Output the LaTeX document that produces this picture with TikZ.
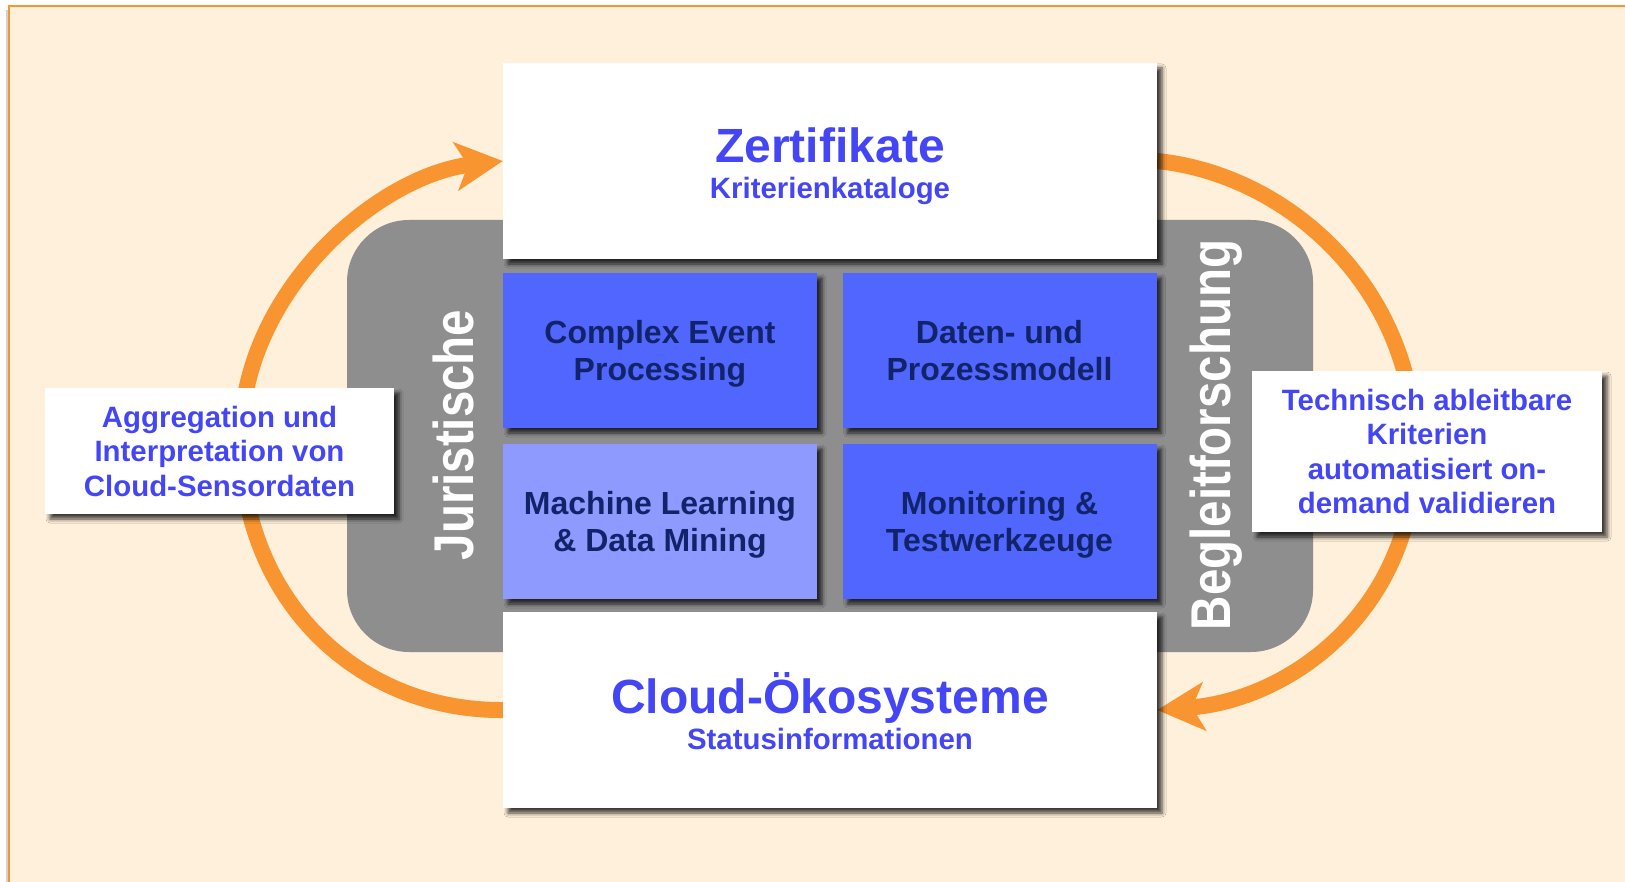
\documentclass[tikz,border=0pt]{standalone}
\usepackage{fontspec}
\setmainfont{Liberation Sans}
\usetikzlibrary{arrows.meta, shadows.blur, backgrounds, positioning}
\definecolor{cream}{RGB}{254,240,218}
\definecolor{frameorange}{RGB}{249,149,48}
\definecolor{panelgray}{RGB}{142,142,142}
\definecolor{tileblue}{RGB}{80,102,255}
\definecolor{tilelight}{RGB}{143,154,255}
\definecolor{textblue}{RGB}{68,70,245}
\definecolor{textnavy}{RGB}{18,36,105}
\tikzset{
    dropshade/.style={blur shadow={shadow xshift=5pt, shadow yshift=-5pt, shadow blur radius=4pt, shadow opacity=75}},
    mainbox/.style={dropshade, fill=white, minimum width=654pt, minimum height=196pt, inner sep=0pt},
    tile/.style={dropshade, fill=tileblue, minimum width=314pt, minimum height=155pt, inner sep=0pt,
        align=center, text depth=0pt, text=textnavy, font=\fontsize{32}{37}\selectfont\bfseries},
    notebox/.style={dropshade, fill=white, inner sep=0pt, align=center, text=textblue,
        font=\fontsize{29.4}{34.5}\selectfont\bfseries},
    bigtitle/.style={anchor=base, text=textblue, font=\fontsize{48}{48}\selectfont\bfseries},
    subtitle/.style={anchor=base, text=textblue, font=\fontsize{29.4}{29.4}\selectfont\bfseries},
    sideword/.style={rotate=90, text=white, font=\fontsize{47.5}{47.5}\selectfont\bfseries},
    loopline/.style={line width=16pt, draw=frameorange, -{Stealth[length=47pt, width=48pt, inset=12pt]}}
}
\begin{document}
\begin{tikzpicture}[x=1pt, y=-1pt]
    \useasboundingbox (0,0) rectangle (1625,882);
    % header and footer
    \node[mainbox] (cert) at (830,161) {};
    \node[bigtitle] (certname) at (830,163) {Zertifikate};
    \node[subtitle] (certsub) at (830,199) {Kriterienkataloge};
    \node[mainbox] (eco) at (830,710) {};
    \node[bigtitle] (econame) at (830,713) {Cloud-Ökosysteme};
    \node[subtitle] (ecosub) at (830,749) {Statusinformationen};
    % the four work packages
    \node[tile] (cep) at (660,350.5) {Complex Event\\Processing};
    \node[tile] (model) at (999.5,350.5) {Daten- und\\Prozessmodell};
    \node[tile, fill=tilelight] (ml) at (660,521.5) {Machine Learning\\\& Data Mining};
    \node[tile] (mon) at (999.5,521.5) {Monitoring \&\\Testwerkzeuge};
    % side labels
    \node[sideword] (legal) at (453,435) {\scalebox{1}[1.18]{Juristische}};
    \node[sideword] (research) at (1216,435) {\scalebox{1}[1.18]{Begleitforschung}};
    \node[notebox, minimum width=349pt, minimum height=126pt] (aggr) at (219.5,451)
        {Aggregation und\\Interpretation von\\Cloud-Sensordaten};
    \node[notebox, minimum width=350pt, minimum height=161pt] (valid) at (1427,451.5)
        {Technisch ableitbare\\Kriterien\\automatisiert on-\\demand validieren};
    \begin{scope}[on background layer]
    \fill[white] (0,0) rectangle (1625,882);
    \draw[gray!35, line width=2pt] (6.5,10) -- (6.5,882);
    \fill[cream] (9,6) rectangle (1625,882);
    \draw[frameorange, line width=2pt] (9,882) -- (9,6) -- (1625,6);
    \fill[panelgray, rounded corners=62pt] (347,220) rectangle (1313,652);
    \draw[loopline] (eco.west) .. controls (358,711) and (241,600) .. (241,440)
        .. controls (241,290) and (380,175) .. (cert.west);
    \draw[loopline] (cert.east) .. controls (1290,175) and (1415,290) .. (1415,450)
        .. controls (1415,610) and (1290,700) .. (eco.east);
    \end{scope}
\end{tikzpicture}
\end{document}
